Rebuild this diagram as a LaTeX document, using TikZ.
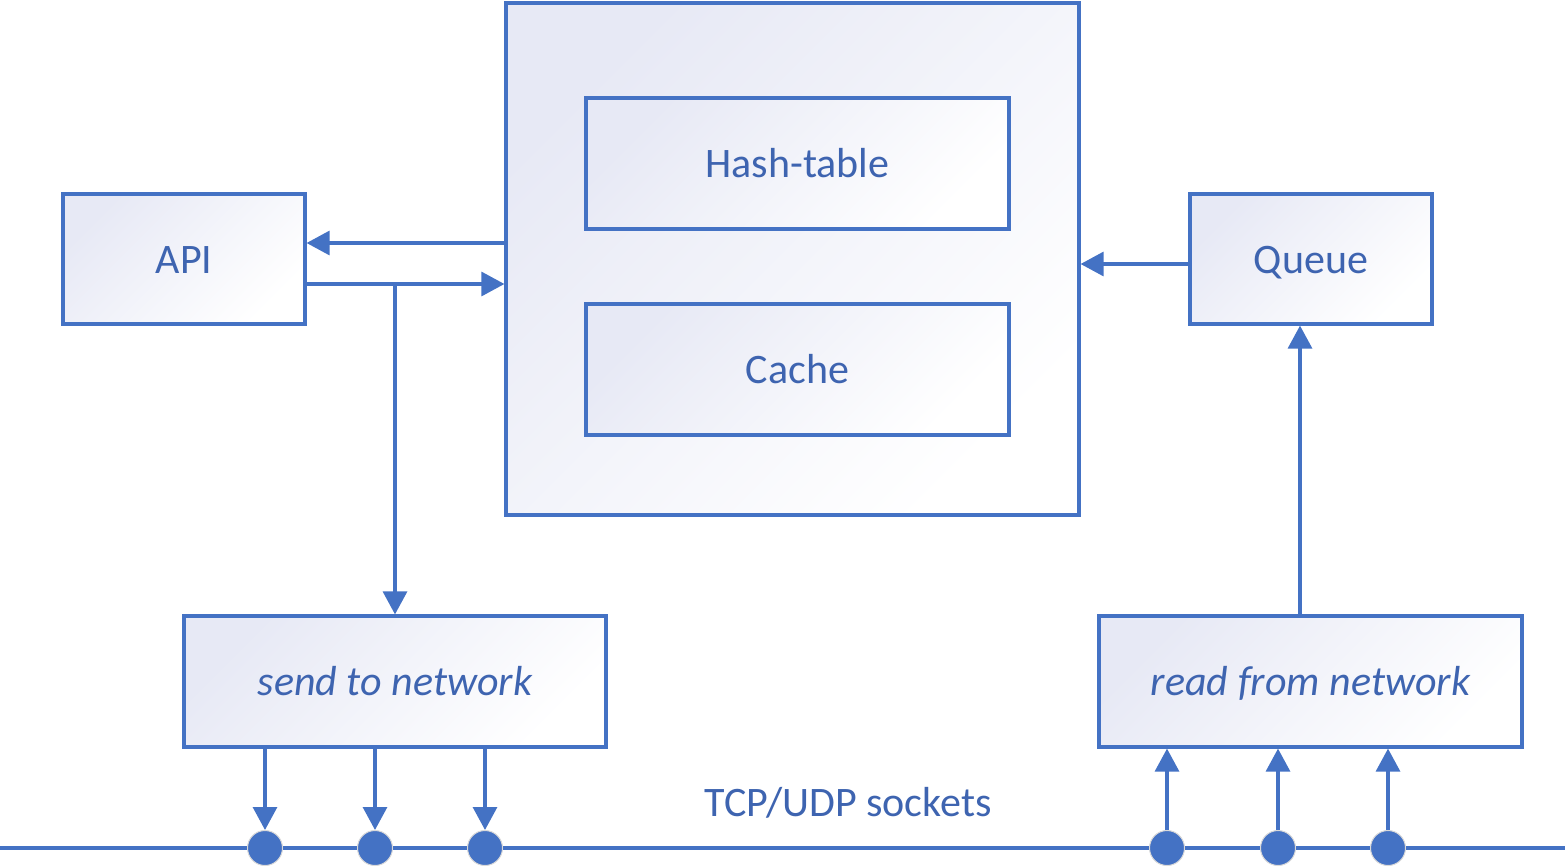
\documentclass[tikz,border=0pt]{standalone}
\usepackage{fontspec}
\setmainfont{Carlito}
\usetikzlibrary{arrows.meta}
\definecolor{ln}{HTML}{4472C4}
\definecolor{tx}{HTML}{3E64B0}
\definecolor{lav}{HTML}{E7E9F5}
\tikzset{
  box/.style={draw=ln, line width=3.2pt, inner sep=0pt, shading=axis, top color=lav, bottom color=white, shading angle=45, text=tx, font=\fontsize{42}{48}\selectfont, text height=28pt, text depth=0pt},
  arr/.style={draw=ln, line width=3.2pt, -{Triangle[length=23pt,width=24pt]}},
  wire/.style={draw=ln, line width=3.2pt},
  dot/.style={circle, fill=ln, draw=white!85!black, line width=1pt, minimum size=35pt, inner sep=0pt},
  lbl/.style={text=tx, font=\fontsize{42}{48}\selectfont}
}
\begin{document}
\begin{tikzpicture}[x=1pt,y=-1pt]
\useasboundingbox (0,0) rectangle (1565,867);
\node[box, minimum width=573pt, minimum height=512pt] (main) at (792.5,259) {};
\node[box, minimum width=423pt, minimum height=131pt] (hash) at (797.5,163.5) {Hash-table};
\node[box, minimum width=423pt, minimum height=131pt] (cache) at (797.5,369.5) {Cache};
\node[box, minimum width=242pt, minimum height=130pt] (api) at (184,259) {API};
\node[box, minimum width=242pt, minimum height=130pt] (queue) at (1311,259) {Queue};
\node[box, minimum width=422pt, minimum height=131pt] (send) at (395,681.5) {\itshape send to network};
\node[box, minimum width=423pt, minimum height=131pt] (read) at (1310.5,681.5) {\itshape read from network};
\coordinate (lw) at (0,848);
\coordinate (le) at (1565,848);
\draw[wire] (lw) -- (le);
\node[dot] (d1) at (265,848) {};
\node[dot] (d2) at (375,848) {};
\node[dot] (d3) at (485,848) {};
\node[dot] (d4) at (1167,848) {};
\node[dot] (d5) at (1278,848) {};
\node[dot] (d6) at (1388,848) {};
\node[lbl] (tcp) at (848,803) {TCP/UDP sockets};
\draw[arr] (main.west |- 0,243) -- (api.east |- 0,243);
\draw[arr] (api.east |- 0,284) -- (main.west |- 0,284);
\draw[arr] (send.north |- 0,284) -- (send.north);
\draw[arr] (queue.west |- 0,264) -- (main.east |- 0,264);
\draw[arr] (read.north -| 1300,0) -- (queue.south -| 1300,0);
\foreach \d in {d1,d2,d3} \draw[arr] (send.south -| \d) -- (\d.north);
\foreach \d in {d4,d5,d6} \draw[arr] (\d.north) -- (read.south -| \d);
\end{tikzpicture}
\end{document}
